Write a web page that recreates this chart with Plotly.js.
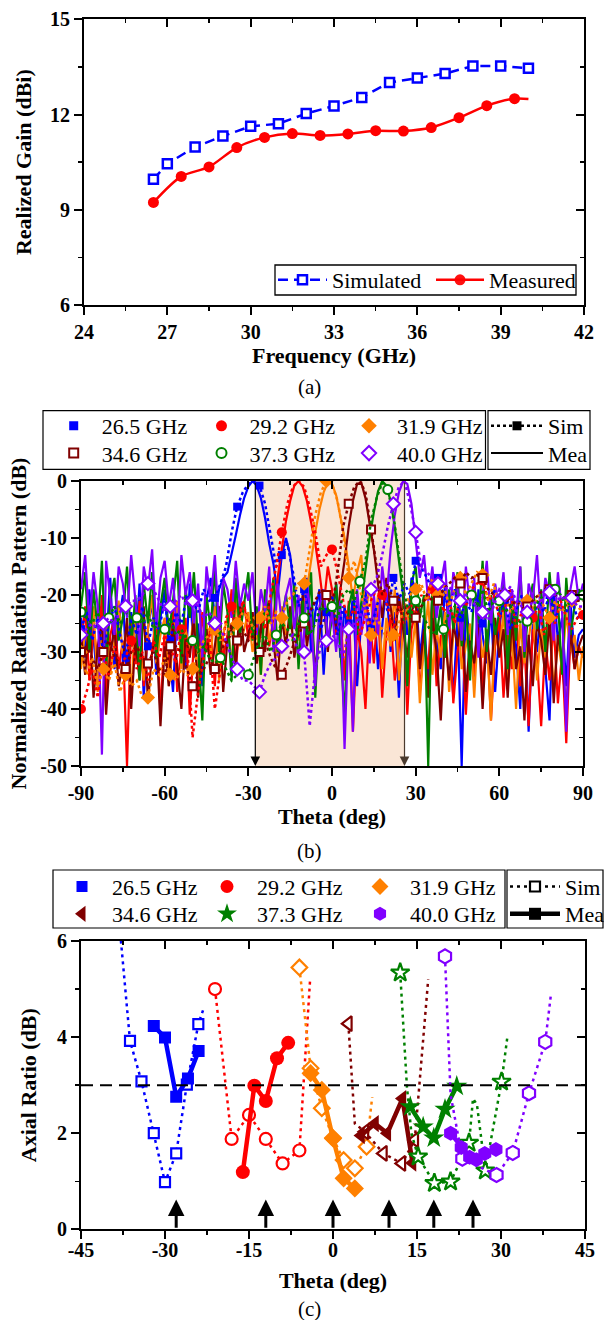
<!DOCTYPE html>
<html><head><meta charset="utf-8">
<script src="https://cdn.plot.ly/plotly-3.0.1.min.js"></script>
<style>html,body{margin:0;padding:0;background:#fff}</style>
</head><body><div id="chart" style="width:604px;height:1320px"></div>
<script>
// ---------------- Panel (a): realized gain ----------------
const gainSimFreq = [26.5,27,28,29,30,31,32,33,34,35,36,37,38,39,40];
const gainSim = [9.96,10.45,10.98,11.32,11.63,11.71,12.03,12.27,12.54,13.01,13.15,13.29,13.53,13.53,13.46];
const gainMeaFreq = [26.5,27.5,28.5,29.5,30.5,31.5,32.5,33.5,34.5,35.5,36.5,37.5,38.5,39.5,40];
const gainMea = [9.23,10.05,10.35,10.96,11.28,11.40,11.34,11.39,11.49,11.48,11.59,11.90,12.28,12.50,12.49];

// ---------------- Panel (b): normalized radiation pattern ----------------
const freqLabels = ['26.5 GHz','29.2 GHz','31.9 GHz','34.6 GHz','37.3 GHz','40.0 GHz'];
function grid(a,b,s){const o=[];for(let v=a;v<=b+1e-9;v+=s)o.push(+v.toFixed(2));return o;}
const thetaMea = grid(-90,90,1.5);   // 121 samples
const thetaSim = grid(-90,90,2);     // 91 samples

const mea265 = [-24,-31,-19,-27,-36,-22,-29,-17,-33,-25, -20,-35,-23,-30,-18,-38,-26,-21,-34,-24,
 -19,-29,-37,-22,-27,-33,-18,-31,-25,-36, -21,-17,-24,-19,-17,-16,-13,-9.5,-6,-3,
 -1,0,-0.8,-3,-6.5,-11,-14.5,-20,-13,-10, -13,-19,-26,-21,-17,-30,-23,-19,-34,-22,
 -25,-18,-31,-22,-28,-20,-36,-24,-19,-29, -21,-33,-25,-18,-30,-23,-38,-20,-27,-17,
 -19,-31,-24,-36,-20,-28,-33,-18,-26,-38, -24,-50,-21,-29,-35,-19,-27,-32,-22,-37,
 -26,-20,-34,-23,-29,-40,-21,-44,-25,-30, -22,-33,-42,-19,-28,-24,-36,-21,-31,-27, -26];
const mea292 = [-29,-22,-35,-26,-31,-20,-38,-27,-24,-33, -28,-50,-25,-32,-21,-36,-27,-30,-23,-41,
 -26,-33,-22,-37,-29,-24,-41,-28,-35,-23, -30,-25,-36,-22,-31,-27,-19,-33,-24,-21,
 -28,-23,-32,-26,-20,-29,-24,-17,-12,-7, -3.5,-0.8,0,-1,-3.5,-7,-11,-16,-22,-15,
 -19,-27,-23,-35,-21,-44,-26,-30,-40,-24, -32,-22,-38,-27,-24,-35,-29,-21,-41,-26,
 -23,-37,-28,-33,-20,-36,-27,-31,-24,-39, -30,-25,-41,-28,-34,-22,-37,-26,-42,-29,
 -24,-38,-27,-33,-22,-36,-29,-43,-26,-31, -43,-28,-35,-25,-39,-30,-46,-27,-33,-29, -31];
const mea319 = [-33,-26,-30,-22,-37,-27,-24,-34,-28,-21, -31,-25,-38,-23,-29,-35,-26,-20,-32,-27,
 -24,-36,-28,-21,-33,-26,-30,-23,-37,-29, -25,-31,-22,-35,-27,-24,-33,-20,-29,-26,
 -23,-30,-26,-34,-21,-28,-25,-31,-22,-27, -25,-20,-28,-22,-19,-14,-9,-5,-2,-0.2,
 -0.5,-2.5,-6,-10,-15,-21,-16,-13,-24,-18, -27,-20,-33,-24,-29,-19,-35,-26,-22,-31,
 -24,-39,-28,-21,-34,-26,-31,-23,-37,-27, -22,-33,-29,-25,-38,-24,-31,-27,-42,-26,
 -30,-23,-36,-27,-40,-25,-32,-28,-22,-35, -26,-31,-24,-37,-28,-33,-23,-30,-27,-35, -29];
const mea346 = [-27,-34,-23,-38,-29,-25,-41,-30,-26,-36, -32,-24,-40,-28,-35,-22,-39,-30,-27,-43,
 -29,-36,-25,-33,-40,-27,-31,-24,-38,-30, -26,-34,-29,-22,-37,-28,-25,-33,-21,-30,
 -27,-23,-32,-25,-30,-21,-28,-35,-24,-29, -22,-31,-26,-20,-29,-24,-33,-27,-21,-30,
 -22,-26,-19,-14,-8,-3.5,-0.5,-0.3,-3,-7.5, -12,-18,-24,-17,-22,-28,-20,-26,-31,-23,
 -21,-33,-26,-38,-24,-30,-42,-27,-35,-25, -29,-23,-37,-28,-32,-25,-40,-27,-34,-24,
 -31,-26,-38,-24,-33,-29,-42,-27,-36,-25, -28,-34,-24,-39,-27,-31,-41,-26,-33,-29, -27];
const mea373 = [-22,-16,-30,-19,-26,-14,-33,-21,-17,-28, -24,-15,-29,-20,-35,-18,-25,-16,-31,-22,
 -17,-27,-21,-14,-32,-19,-24,-16,-29,-42, -20,-26,-15,-30,-18,-23,-35,-17,-27,-21,
 -16,-28,-22,-34,-19,-25,-17,-30,-24,-20, -26,-18,-33,-21,-27,-16,-38,-23,-19,-29,
 -24,-18,-30,-41,-22,-19,-27,-21,-16,-10, -5.5,-1.8,0,-0.8,-3.5,-8,-14,-20,-36,-18,
 -15,-24,-20,-50,-17,-27,-22,-31,-19,-26, -16,-29,-21,-35,-18,-25,-14,-30,-20,-27,
 -23,-17,-33,-20,-28,-15,-31,-22,-18,-26, -19,-30,-16,-25,-21,-34,-17,-27,-22,-19, -20];
const mea400 = [-19,-13,-25,-16,-22,-48,-14,-20,-27,-15, -18,-24,-13,-21,-29,-15,-19,-12,-26,-17,
 -14,-22,-17,-28,-13,-20,-16,-25,-18,-31, -15,-21,-13,-26,-17,-19,-24,-14,-22,-18,
 -21,-16,-27,-19,-23,-15,-30,-18,-25,-20, -17,-26,-20,-31,-18,-24,-36,-22,-19,-28,
 -23,-30,-21,-47,-25,-44,-19,-27,-22,-32, -20,-27,-15,-21,-12,-6,-2,0,-0.5,-4,
 -10,-17,-13,-21,-15,-24,-18,-14,-26,-16, -19,-28,-15,-22,-17,-31,-20,-14,-25,-18,
 -22,-16,-27,-19,-24,-15,-30,-18,-21,-13, -25,-17,-20,-28,-16,-23,-44,-19,-15,-21, -18];

const sim265 = [-26,-23,-28,-24,-30,-25,-22,-27,-31,-24, -27,-22,-29,-24,-26,-21,-28,-23,-25,-20,
 -21,-23,-19,-21,-20.5,-18,-15,-9,-4.5,-2, -0.5,0,-0.8,-4,-9.5,-15,-13,-11,-16,-22,
 -19,-24,-21,-26,-23,-20,-27,-22,-25,-21, -24,-20,-26,-22,-19,-23,-17,-21,-18,-20,
 -14,-15,-17,-19,-17,-20,-22,-19,-24,-21, -23,-20,-25,-22,-19,-24,-21,-26,-23,-20,
 -22,-25,-21,-23,-20,-24,-22,-23,-21,-24, -23];
const sim292 = [-40,-37,-33,-38,-30,-34,-29,-32,-31,-28, -33,-30,-35,-28,-31,-27,-29,-32,-26,-28,
 -45,-37,-31,-27,-40,-33,-24,-22,-26,-21, -25,-28,-23,-26,-20,-15,-9,-4,-1,0,
 -1,-4.5,-9,-15,-13,-12,-16,-21,-25,-22, -27,-24,-21,-19,-20,-22,-26,-22,-25,-21,
 -24,-20,-21,-19,-18,-23,-21,-25,-20,-22, -19,-18,-17.5,-21,-20,-24,-22,-19,-26,-23,
 -25,-24,-22,-27,-23,-25,-21,-24,-26,-24, -23.5];
const sim319 = [-30,-34,-31,-36,-33,-35,-32,-37,-34,-36, -35,-38,-38,-33,-34,-31,-34,-35,-33,-34,
 -33,-30,-28,-27,-26,-28,-25,-27,-25,-23, -24,-26,-24,-22,-25,-23,-24,-21,-20,-18,
 -18,-12,-6,-2,0,-0.5,-3.5,-9,-17,-14, -19,-23,-27,-24,-26,-28,-27,-25,-22,-20,
 -19,-18,-21,-17,-20,-18,-22,-19,-17,-20, -18,-16,-16.5,-21,-18,-22,-20,-23,-21,-22,
 -21,-23,-20,-22,-24,-21,-23,-22,-21,-22, -23];
const sim346 = [-30,-29,-31,-33,-30,-28,-31,-32,-33,-30, -29,-31,-32,-30,-33,-34,-29,-29,-30,-33,
 -36,-34,-33,-31,-33,-30,-28,-27,-28,-26, -28,-27,-30,-28,-31,-33,-34,-32,-29,-27,
 -25,-23,-21,-19,-20,-22,-16,-8,-4,-1, 0,-2,-8.5,-15,-20,-18,-21,-23,-22,-24,
 -24,-22,-20,-21,-21,-19,-18,-17,-18,-16, -17,-16.5,-17,-19,-20,-21,-20,-22,-21,-22,
 -22,-21,-20,-19,-19,-20,-21,-20,-20,-21, -21];
const sim373 = [-23,-24,-25,-23,-26,-24,-22,-25,-23,-24, -24,-25,-23,-26,-25,-26,-24,-27,-26,-28,
 -28,-30,-29,-31,-32,-31,-33,-35,-34,-33, -34,-31,-28,-27,-30,-27,-25,-26,-28,-25,
 -24,-27,-25,-22,-23,-22,-24,-20,-19,-21, -17.6,-14,-7,-3,-0.3,-1.5,-6,-13,-20,-24,
 -21,-23,-25,-27,-26,-26,-23,-22,-24,-21, -20,-22,-19,-23,-21,-21,-23,-22,-24,-25,
 -24.6,-23,-21,-20,-19,-19,-20,-22,-21,-20, -20];
const sim400 = [-27,-26,-25,-26,-25,-24,-25,-23,-22,-21, -21,-20,-18,-19,-21,-23,-22,-21,-20,-22,
 -21,-22,-24,-23,-25,-26,-28,-31,-33,-35, -35,-36,-37,-34,-32,-31,-29,-28,-27,-30,
 -30,-43,-33,-29,-28,-27,-28,-31,-26,-25, -24,-21,-19,-17,-13,-8,-4,-1,0,-4,
 -9,-15,-16,-17,-18,-19,-18.5,-20,-21,-20, -21,-22,-23,-24.5,-22,-19,-20,-18.5,-21,-22,
 -23,-21,-22,-20,-19.5,-20,-21,-20,-20.5,-22, -22];
const scanCoverage = [-27.5, 26];   // shaded scan range (deg)

// ---------------- Panel (c): axial ratio ----------------
const arSimBlueX = [-38.1,-36.25,-34.2,-32.0,-30.0,-28.0,-26.1,-24.05,-23.2];
const arSimBlueY = [6.3,3.92,3.08,2.0,0.98,1.58,3.01,4.27,4.56];
const arMeaBlueX = [-32.0,-30.0,-28.0,-25.9,-24.0];
const arMeaBlueY = [4.23,3.99,2.76,3.14,3.71];
const arSimRedX = [-21.07,-18.1,-15.0,-12.0,-9.0,-6.0,-4.1];
const arSimRedY = [5.0,1.88,2.38,1.88,1.37,1.64,5.18];
const arMeaRedX = [-16.1,-14.05,-12.0,-10.0,-8.0];
const arMeaRedY = [1.19,2.99,2.67,3.56,3.88];
const arSimOrangeX = [-6.0,-4.0,-2.0,0.0,1.9,3.9,6.0,7.0];
const arSimOrangeY = [5.45,3.35,2.52,1.9,1.44,1.27,1.72,2.75];
const arMeaOrangeX = [-4.0,-2.0,0.0,1.9,3.9];
const arMeaOrangeY = [3.25,2.9,1.89,1.06,0.85];
const arSimDarkX = [2.74,3.9,5.7,9.0,12.3,14.6,17.0];
const arSimDarkY = [4.28,2.2,2.03,1.58,1.37,1.86,5.2];
const arMeaDarkX = [5.0,7.5,9.7,12.4,14.2];
const arMeaDarkY = [1.95,2.2,2.0,2.72,1.38];
const arSimGreenX = [12.0,13.2,14.0,15.2,18.1,21.0,24.3,25.0,25.7,27.2,30.1,31.1];
const arSimGreenY = [5.34,2.97,2.0,1.51,0.96,0.99,1.8,2.72,2.6,1.22,3.07,3.97];
const arMeaGreenX = [13.8,16.1,18.0,20.0,22.1];
const arMeaGreenY = [2.55,2.13,1.9,2.5,2.98];
const arSimPurpleX = [20.0,21.0,23.1,29.2,32.1,35.0,37.9,38.9];
const arSimPurpleY = [5.68,2.8,1.47,1.13,1.59,2.83,3.9,4.87];
const arMeaPurpleX = [21.0,22.9,24.4,25.6,27.1,29.1];
const arMeaPurpleY = [2.0,1.7,1.5,1.45,1.58,1.66];
const arThreshold = 3;
const beamDirections = [-28,-12,0,10,18,25];

// ================= styling / construction =================
const W = 604, H = 1320;
const px = v => v / W, py = v => 1 - v / H;
const FONT = 'Liberation Serif';
const COLORS = ['#0000FF','#FF0000','#FF8000','#800000','#008000','#8000FF'];

const traces = [];

// (a)
traces.push({x: gainSimFreq, y: gainSim, xaxis:'x', yaxis:'y', mode:'lines+markers', name:'Simulated',
  legend:'legend', line:{color:'#0000FF', width:2.5, dash:'10px,6px'},
  marker:{symbol:'square', size:9, color:'white', line:{color:'#0000FF', width:2.5}}, hoverinfo:'skip'});
traces.push({x: gainMeaFreq, y: gainMea, xaxis:'x', yaxis:'y', mode:'lines+markers', name:'Measured',
  legend:'legend2', line:{color:'#FF0000', width:2.5, shape:'spline', smoothing:0.8},
  marker:{symbol:'circle', size:11, color:'#FF0000', opacity: gainMea.map((v,i)=> i === gainMea.length-1 ? 0 : 1)}, hoverinfo:'skip'});

// (b)
const patMea = [mea265, mea292, mea319, mea346, mea373, mea400];
const patSim = [sim265, sim292, sim319, sim346, sim373, sim400];
const patSym = ['square','circle','diamond','square','circle','diamond'];
const patOpen = [false,false,false,true,true,true];
const patStep = [4,9,4,4,5,4];
const patSize = [8,10,11,8,9,10];
patMea.forEach((arr,i)=>{
  traces.push({x: thetaMea, y: arr, xaxis:'x2', yaxis:'y2', mode:'lines', showlegend:false,
    line:{color:COLORS[i], width:2.2}, hoverinfo:'skip'});
});
patSim.forEach((arr,i)=>{
  traces.push({x: thetaSim, y: arr, xaxis:'x2', yaxis:'y2', mode:'lines+markers', showlegend:false,
    line:{color:COLORS[i], width:2.5, dash:'dot'},
    marker:{symbol:patSym[i], size:patSize[i], color: patOpen[i] ? 'white' : COLORS[i],
      line:{color:COLORS[i], width: patOpen[i] ? 2 : 0},
      opacity: arr.map((v,k)=> k % patStep[i] === 0 ? 1 : 0)}, hoverinfo:'skip'});
});
// legend entries for (b)
const legB = ['legend3','legend4','legend5','legend6','legend7','legend8'];
freqLabels.forEach((lab,i)=>{
  traces.push({x:[null], y:[null], xaxis:'x2', yaxis:'y2', mode:'markers', name:lab, legend:legB[i],
    marker:{symbol:patSym[i], size: patSize[i]+1, color: patOpen[i] ? 'white' : COLORS[i],
      line:{color:COLORS[i], width: patOpen[i] ? 2 : 0}}});
});
traces.push({x:[null], y:[null], xaxis:'x2', yaxis:'y2', mode:'lines+markers', name:'Sim', legend:'legend9',
  line:{color:'black', width:2.5, dash:'dot'}, marker:{symbol:'square', size:9, color:'black'}});
traces.push({x:[null], y:[null], xaxis:'x2', yaxis:'y2', mode:'lines', name:'Mea', legend:'legend10',
  line:{color:'black', width:2}});

// (c)
const arSeries = [
  {sx:arSimBlueX, sy:arSimBlueY, mx:arMeaBlueX, my:arMeaBlueY, vis:[0,1,1,1,1,1,1,1,0]},
  {sx:arSimRedX, sy:arSimRedY, mx:arMeaRedX, my:arMeaRedY, vis:[1,1,1,1,1,1,0]},
  {sx:arSimOrangeX, sy:arSimOrangeY, mx:arMeaOrangeX, my:arMeaOrangeY, vis:[1,1,1,1,1,1,1,0]},
  {sx:arSimDarkX, sy:arSimDarkY, mx:arMeaDarkX, my:arMeaDarkY, vis:[1,0,1,1,1,1,0]},
  {sx:arSimGreenX, sy:arSimGreenY, mx:arMeaGreenX, my:arMeaGreenY, vis:[1,0,0,1,1,1,1,0,0,1,1,0]},
  {sx:arSimPurpleX, sy:arSimPurpleY, mx:arMeaPurpleX, my:arMeaPurpleY, vis:[1,0,1,1,1,1,1,0]}
];
const arSym = ['square','circle','diamond','triangle-left','star','hexagon'];
const arSimSize = [10,12,12,13,14,14];
const arMeaSize = [12,14,14,15,16,15];
arSeries.forEach((s,i)=>{
  traces.push({x:s.sx, y:s.sy, xaxis:'x3', yaxis:'y3', mode:'lines+markers', showlegend:false,
    line:{color:COLORS[i], width:2.5, dash:'3px,4px'},
    marker:{symbol:arSym[i], size:arSimSize[i], color:'white', line:{color:COLORS[i], width:2.2}, opacity:s.vis},
    hoverinfo:'skip'});
  traces.push({x:s.mx, y:s.my, xaxis:'x3', yaxis:'y3', mode:'lines+markers', showlegend:false,
    line:{color:COLORS[i], width:4.5},
    marker:{symbol:arSym[i], size:arMeaSize[i], color:COLORS[i], line:{width:0}}, hoverinfo:'skip'});
});
const legC = ['legend11','legend12','legend13','legend14','legend15','legend16'];
freqLabels.forEach((lab,i)=>{
  traces.push({x:[null], y:[null], xaxis:'x3', yaxis:'y3', mode:'markers', name:lab, legend:legC[i],
    marker:{symbol:arSym[i], size:arMeaSize[i]-1, color:COLORS[i], line:{width:0}}});
});
traces.push({x:[null], y:[null], xaxis:'x3', yaxis:'y3', mode:'lines+markers', name:'Sim', legend:'legend17',
  line:{color:'black', width:2.5, dash:'3px,4px'}, marker:{symbol:'square', size:10, color:'white', line:{color:'black', width:2.2}}});
traces.push({x:[null], y:[null], xaxis:'x3', yaxis:'y3', mode:'lines+markers', name:'Mea', legend:'legend18',
  line:{color:'black', width:4.5}, marker:{symbol:'square', size:12, color:'black'}});

// dummy traces so overlay (mirror) axes get drawn
[['x4','y'],['x','y4'],['x5','y2'],['x2','y5'],['x6','y3'],['x3','y6']].forEach(p=>{
  traces.push({x:[null], y:[null], xaxis:p[0], yaxis:p[1], mode:'markers', showlegend:false, hoverinfo:'skip'});
});

// ---------- axes ----------
const tickFont = {family:FONT, size:20, color:'black', weight:'bold'};
const titleFont = {family:FONT, size:22, color:'black', weight:'bold'};
function mainAxis(o){
  return Object.assign({showgrid:false, zeroline:false, showline:true, linecolor:'black', linewidth:2,
    mirror:true, ticks:'outside', ticklen:8, tickwidth:2, tickcolor:'black', tickfont:tickFont,
    fixedrange:true}, o);
}
function mirrorAxis(o){
  return Object.assign({showgrid:false, zeroline:false, showline:false, ticks:'inside', ticklen:8,
    tickwidth:2, tickcolor:'black', showticklabels:false, fixedrange:true}, o);
}
function minor(t0, dt, dir){ return {ticks:dir, ticklen:4, tickwidth:1.5, tickcolor:'black', tickmode:'linear', tick0:t0, dtick:dt, showgrid:false}; }
const hy = a => a.map(v => String(v).replace('\u2212','-'));

const xA = {domain:[px(84), px(584)], range:[24,42]};
const yA = {domain:[py(305), py(19.3)], range:[6,15]};
const xB = {domain:[px(81), px(583)], range:[-90,90]};
const yB = {domain:[py(766), py(481)], range:[-50,0]};
const xC = {domain:[px(81), px(585)], range:[-45,45]};
const yC = {domain:[py(1229.3), py(941)], range:[0,6]};
const xBt = [-90,-60,-30,0,30,60,90], yBt = [-50,-40,-30,-20,-10,0], xCt = [-45,-30,-15,0,15,30,45];

const layout = {
  width: W, height: H, margin:{l:0, r:0, t:0, b:0, autoexpand:false},
  paper_bgcolor:'white', plot_bgcolor:'white', font:{family:FONT, color:'black'},
  xaxis: mainAxis(Object.assign({}, xA, {anchor:'y', tickmode:'linear', tick0:24, dtick:3, minor:minor(24,1.5,'outside'),
    title:{text:'Frequency (GHz)', font:titleFont, standoff:4}})),
  yaxis: mainAxis(Object.assign({}, yA, {anchor:'x', tickmode:'linear', tick0:6, dtick:3, minor:minor(6,1.5,'outside'),
    title:{text:'Realized Gain (dBi)', font:titleFont, standoff:12}})),
  xaxis4: mirrorAxis({overlaying:'x', anchor:'y', side:'top', range:xA.range, tickmode:'linear', tick0:24, dtick:3, minor:minor(24,1.5,'inside')}),
  yaxis4: mirrorAxis({overlaying:'y', anchor:'x', side:'right', range:yA.range, tickmode:'linear', tick0:6, dtick:3, minor:minor(6,1.5,'inside')}),

  xaxis2: mainAxis(Object.assign({}, xB, {anchor:'y2', tickmode:'array', tickvals:xBt, ticktext:hy(xBt), minor:minor(-90,15,'outside'),
    title:{text:'Theta (deg)', font:titleFont, standoff:4}})),
  yaxis2: mainAxis(Object.assign({}, yB, {anchor:'x2', tickmode:'array', tickvals:yBt, ticktext:hy(yBt), minor:minor(-50,5,'outside'),
    title:{text:'Normalized Radiation Pattern (dB)', font:titleFont, standoff:8}})),
  xaxis5: mirrorAxis({overlaying:'x2', anchor:'y2', side:'top', range:xB.range, tickmode:'array', tickvals:xBt, minor:minor(-90,15,'inside')}),
  yaxis5: mirrorAxis({overlaying:'y2', anchor:'x2', side:'right', range:yB.range, tickmode:'array', tickvals:yBt, minor:minor(-50,5,'inside')}),

  xaxis3: mainAxis(Object.assign({}, xC, {anchor:'y3', tickmode:'array', tickvals:xCt, ticktext:hy(xCt), minor:minor(-45,7.5,'outside'),
    ticklabelstandoff:-6, title:{text:'Theta (deg)', font:titleFont, standoff:12}})),
  yaxis3: mainAxis(Object.assign({}, yC, {anchor:'x3', tickmode:'linear', tick0:0, dtick:2, minor:minor(0,1,'outside'),
    title:{text:'Axial Ratio (dB)', font:titleFont, standoff:14}})),
  xaxis6: mirrorAxis({overlaying:'x3', anchor:'y3', side:'top', range:xC.range, tickmode:'array', tickvals:xCt, minor:minor(-45,7.5,'inside')}),
  yaxis6: mirrorAxis({overlaying:'y3', anchor:'x3', side:'right', range:yC.range, tickmode:'linear', tick0:0, dtick:2, minor:minor(0,1,'inside')}),

  shapes: [
    {type:'rect', xref:'x2', yref:'y2', x0:scanCoverage[0], x1:scanCoverage[1], y0:-50, y1:0,
      fillcolor:'rgba(245,200,165,0.45)', line:{width:0}, layer:'below'},
    {type:'line', xref:'x3 domain', yref:'y3', x0:0, x1:1, y0:arThreshold, y1:arThreshold,
      line:{color:'black', width:2, dash:'12px,7px'}},
    // legend frames
    {type:'rect', xref:'paper', yref:'paper', x0:px(275), x1:px(576), y0:py(295), y1:py(265), line:{color:'black', width:1.3}},
    {type:'rect', xref:'paper', yref:'paper', x0:px(43), x1:px(485.5), y0:py(469.3), y1:py(410.7), line:{color:'black', width:1.2}},
    {type:'rect', xref:'paper', yref:'paper', x0:px(488), x1:px(590), y0:py(469.3), y1:py(410.7), line:{color:'black', width:1.2}},
    {type:'rect', xref:'paper', yref:'paper', x0:px(53), x1:px(505), y0:py(928), y1:py(870), line:{color:'black', width:1.2}},
    {type:'rect', xref:'paper', yref:'paper', x0:px(507), x1:px(603), y0:py(928), y1:py(870), line:{color:'black', width:1.2}}
  ],
  annotations: []
};

// scan-edge arrows in (b)
scanCoverage.forEach((t,i)=>{
  layout.annotations.push({x:t, y:-50, ax:t, ay:0, xref:'x2', yref:'y2', axref:'x2', ayref:'y2', text:'',
    showarrow:true, arrowhead:2, arrowsize:1.6, arrowwidth:1.2, arrowcolor: i===0 ? 'black' : '#4a3a2e', standoff:0, startstandoff:0});
});
// beam direction arrows in (c)
beamDirections.forEach(t=>{
  layout.annotations.push({x:t, y:0.62, ax:t, ay:0, xref:'x3', yref:'y3', axref:'x3', ayref:'y3', text:'',
    showarrow:true, arrowhead:2, arrowsize:1.1, arrowwidth:3, arrowcolor:'black', standoff:0, startstandoff:0});
});
// captions
[['(a)',387],['(b)',851],['(c)',1309]].forEach(c=>{
  layout.annotations.push({text:c[0], x:px(309), y:py(c[1]), xref:'paper', yref:'paper', showarrow:false,
    xanchor:'center', yanchor:'middle', font:{family:FONT, size:21, color:'black'}});
});

// legends (one per item so every entry sits where it should)
function leg(L, yc, w){
  return {x:px(L), y:py(yc), xref:'paper', yref:'paper', xanchor:'left', yanchor:'middle',
    bgcolor:'rgba(0,0,0,0)', borderwidth:0, itemwidth:w, orientation:'v', tracegroupgap:0,
    font:{family:FONT, size:22, color:'black'}, itemclick:false, itemdoubleclick:false};
}
layout.legend = leg(273, 280, 49);
layout.legend2 = leg(431, 280, 48);
const bCols = [45.7, 193.5, 341], bRows = [426, 453.3];
legB.forEach((id,i)=>{ layout[id] = leg(bCols[i%3], bRows[Math.floor(i/3)], 46); });
layout.legend9 = leg(486, 426, 52);
layout.legend10 = leg(486, 453.3, 52);
const cCols = [52, 197, 350], cRows = [886.7, 914];
legC.forEach((id,i)=>{ layout[id] = leg(cCols[i%3], cRows[Math.floor(i/3)], 50); });
layout.legend17 = leg(505, 886.7, 50);
layout.legend18 = leg(505, 914, 50);

Plotly.newPlot('chart', traces, layout, {staticPlot:true, displayModeBar:false});
</script></body></html>
